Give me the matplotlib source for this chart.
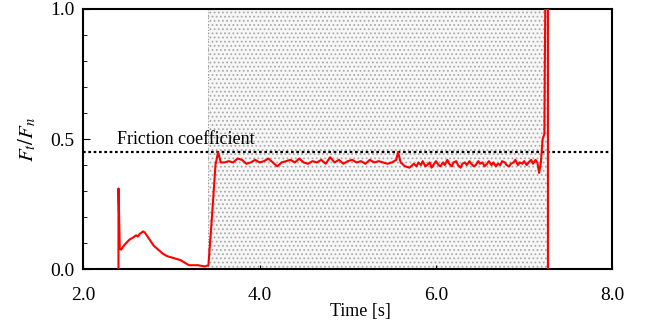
import matplotlib.pyplot as plt
from matplotlib.ticker import MultipleLocator

plt.rcParams['font.family'] = ['Liberation Serif', 'DejaVu Serif']
plt.rcParams['mathtext.fontset'] = 'stix'
plt.rcParams['hatch.linewidth'] = 0.8

# run-in and start-up part (time [s], Ft/Fn)
t_start = [2.40, 2.40, 2.415, 2.43, 2.46, 2.50, 2.53, 2.56, 2.58, 2.60, 2.62, 2.64, 2.66,
           2.68, 2.70, 2.73, 2.76, 2.80, 2.85, 2.90, 2.95, 3.00, 3.05, 3.10, 3.15, 3.20,
           3.30, 3.38, 3.42]
f_start = [0.0, 0.31, 0.08, 0.075, 0.09, 0.105, 0.115, 0.12, 0.125, 0.13, 0.125, 0.135, 0.14,
           0.145, 0.14, 0.125, 0.11, 0.09, 0.075, 0.06, 0.05, 0.045, 0.04, 0.035, 0.025, 0.015,
           0.015, 0.01, 0.015]

# steady sliding part
t_slide = [3.46, 3.50, 3.53, 3.56, 3.60, 3.65, 3.70, 3.75, 3.80, 3.85, 3.90, 3.95, 4.00,
           4.05, 4.10, 4.15, 4.20, 4.25, 4.30, 4.35, 4.40, 4.45, 4.50, 4.55, 4.60, 4.65,
           4.70, 4.75, 4.80, 4.85, 4.90, 4.95, 5.00, 5.05, 5.10, 5.15, 5.20, 5.25, 5.30,
           5.35, 5.40, 5.45, 5.50, 5.55, 5.57, 5.60, 5.65, 5.70, 5.75, 5.78, 5.80, 5.83,
           5.85, 5.88, 5.90, 5.93, 5.95, 5.98, 6.00, 6.03, 6.05, 6.08, 6.10, 6.13, 6.15,
           6.18, 6.20, 6.23, 6.25, 6.28, 6.30, 6.33, 6.35, 6.38, 6.40, 6.43, 6.45, 6.48,
           6.50, 6.53, 6.55, 6.58, 6.60, 6.63, 6.65, 6.68, 6.70, 6.73, 6.75, 6.78, 6.80,
           6.83, 6.85, 6.88, 6.90, 6.93, 6.95, 6.98, 7.00, 7.03, 7.05, 7.08, 7.10, 7.13,
           7.15, 7.17, 7.19, 7.21, 7.23, 7.235, 7.24, 7.27, 7.27]
f_slide = [0.20, 0.40, 0.45, 0.41, 0.41, 0.415, 0.41, 0.425, 0.42, 0.405, 0.41, 0.42, 0.41,
           0.415, 0.425, 0.41, 0.395, 0.41, 0.415, 0.42, 0.41, 0.425, 0.41, 0.405, 0.415, 0.41,
           0.42, 0.405, 0.43, 0.41, 0.42, 0.405, 0.415, 0.42, 0.41, 0.415, 0.405, 0.42, 0.41,
           0.415, 0.41, 0.405, 0.41, 0.42, 0.45, 0.41, 0.395, 0.39, 0.405, 0.395, 0.41, 0.40,
           0.415, 0.395, 0.40, 0.41, 0.39, 0.405, 0.415, 0.40, 0.395, 0.41, 0.40, 0.42, 0.405,
           0.395, 0.41, 0.415, 0.40, 0.39, 0.405, 0.41, 0.40, 0.415, 0.405, 0.395, 0.40, 0.415,
           0.405, 0.41, 0.395, 0.405, 0.415, 0.40, 0.41, 0.395, 0.405, 0.40, 0.415, 0.41, 0.40,
           0.395, 0.405, 0.41, 0.42, 0.40, 0.41, 0.405, 0.415, 0.40, 0.41, 0.42, 0.405, 0.42,
           0.41, 0.37, 0.41, 0.50, 0.52, 0.80, 1.00, 1.00, 0.0]

mu = 0.45
shade_from, shade_to = 3.42, 7.26
xticks = [2.0, 4.0, 6.0, 8.0]
yticks = [0.0, 0.5, 1.0]

fig, ax = plt.subplots(figsize=(6.5, 3.2), dpi=100)
fig.subplots_adjust(left=0.128, right=0.942, bottom=0.159, top=0.972)

ax.axvspan(shade_from, shade_to, facecolor='#f7f7f7', edgecolor='#ababab',
           hatch='....', linewidth=0, zorder=0)
ax.axvline(shade_from, color='#a0a0a0', lw=0.8, ls=':', zorder=1)
ax.axvline(shade_to, color='#a0a0a0', lw=0.8, ls=':', zorder=1)

ax.axhline(mu, color='black', lw=1.6, ls=(0, (1.2, 1.2)), zorder=2)
ax.text(2.38, mu + 0.015, 'Friction coefficient', fontsize=13, va='bottom', ha='left')

ax.plot(t_start + t_slide, f_start + f_slide, color='red', lw=1.5, zorder=3)

ax.set_xlim(2.0, 8.0)
ax.set_ylim(0.0, 1.0)
ax.set_xticks(xticks)
ax.set_xticklabels([f'{v:.1f}' for v in xticks])
ax.set_yticks(yticks)
ax.set_yticklabels([f'{v:.1f}' for v in yticks])
ax.yaxis.set_minor_locator(MultipleLocator(0.1))
ax.tick_params(axis='both', which='both', direction='in', labelsize=14)
ax.tick_params(axis='y', which='major', length=5, pad=6)
ax.tick_params(axis='y', which='minor', length=3)
ax.tick_params(axis='x', which='major', length=3, pad=13)
for s in ax.spines.values():
    s.set_linewidth(1.5)

ax.set_xlabel('Time [s]', fontsize=13)
ax.xaxis.set_label_coords(0.524, -0.13)
ax.set_ylabel('$F_t/F_n$', fontsize=15)
ax.yaxis.set_label_coords(-0.085, 0.5)

fig.savefig('out.png', dpi=100)
